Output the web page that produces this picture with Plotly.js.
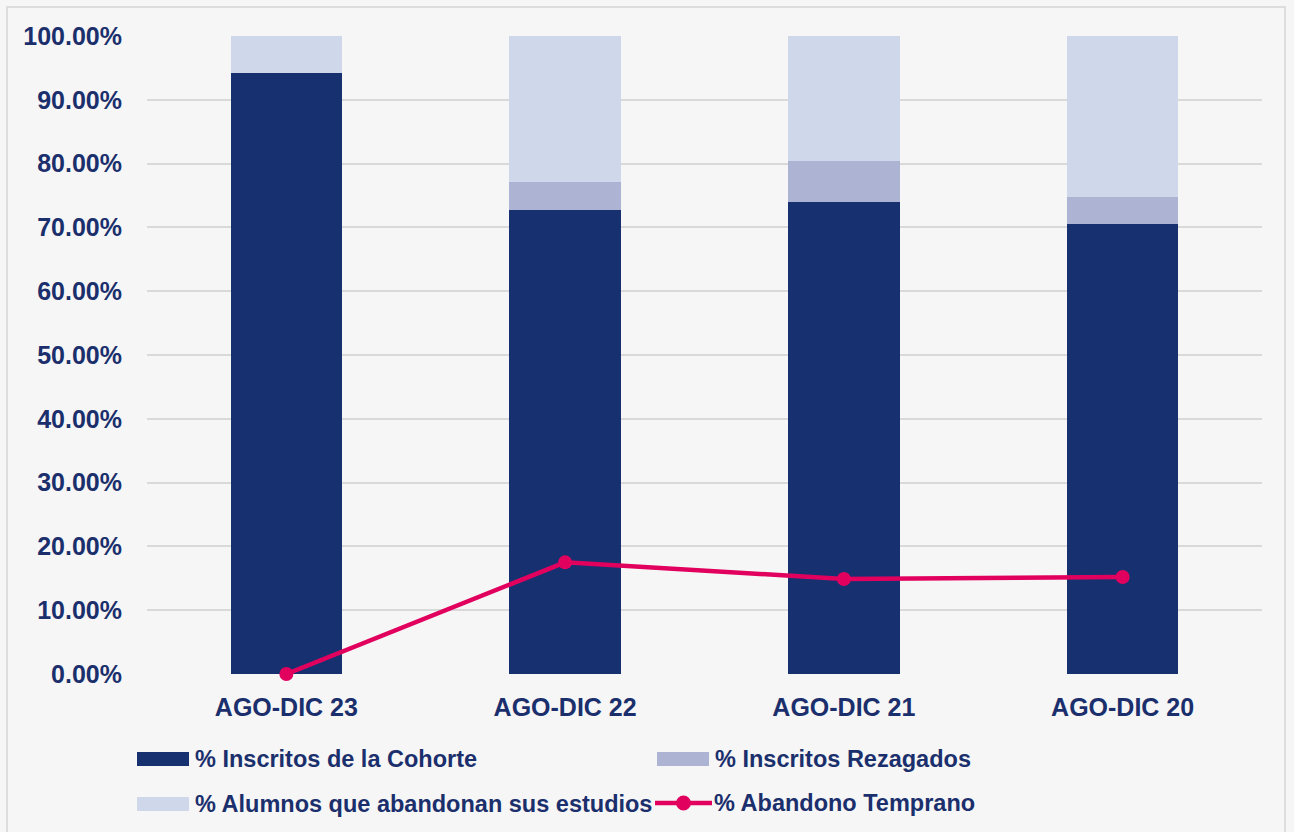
<!DOCTYPE html>
<html>
<head>
<meta charset="utf-8">
<script src="https://cdn.plot.ly/plotly-3.0.1.min.js"></script>
<style>html,body{margin:0;padding:0;background:#f6f6f6;}#chart{width:1294px;height:832px;}</style>
</head>
<body>
<div id="chart"></div>
<script>
const categories = ["AGO-DIC 23", "AGO-DIC 22", "AGO-DIC 21", "AGO-DIC 20"];
const inscritosCohorte = [0.942, 0.727, 0.740, 0.705];
const inscritosRezagados = [0.000, 0.044, 0.064, 0.043];
const alumnosAbandonan = [0.058, 0.229, 0.196, 0.252];
const abandonoTemprano = [0.000, 0.175, 0.149, 0.152];
const yTicks = [0, 0.1, 0.2, 0.3, 0.4, 0.5, 0.6, 0.7, 0.8, 0.9, 1.0];
const seriesNames = ["% Inscritos de la Cohorte", "% Inscritos Rezagados",
                     "% Alumnos que abandonan sus estudios", "% Abandono Temprano"];
const seriesColors = ["#17306f", "#adb3d3", "#cfd8ea", "#e2005f"];

const navy = "#1b2f6d";
const FONT = "Liberation Sans, Arial, sans-serif";

const traces = [
  {type: "bar", name: seriesNames[0], x: categories, y: inscritosCohorte, marker: {color: seriesColors[0]}},
  {type: "bar", name: seriesNames[1], x: categories, y: inscritosRezagados, marker: {color: seriesColors[1]}},
  {type: "bar", name: seriesNames[2], x: categories, y: alumnosAbandonan, marker: {color: seriesColors[2]}},
  {type: "scatter", mode: "lines+markers", name: seriesNames[3], x: categories, y: abandonoTemprano,
   cliponaxis: false,
   line: {color: seriesColors[3], width: 4.5}, marker: {color: seriesColors[3], size: 14}}
];

// plot-area geometry (pixels) used to place the custom legend
const L = 147, T = 36, PW = 1294 - 147 - 32, PH = 832 - 36 - 158;
const px = v => (v - L) / PW;
const py = v => (T + PH - v) / PH;

const shapes = [
  {type: "rect", xref: "paper", yref: "paper", x0: px(7), x1: px(1285), y0: py(7), y1: py(832 + 5),
   line: {color: "#dddddd", width: 2}, fillcolor: "rgba(0,0,0,0)", layer: "below"}
];
const annotations = [];
// legend entries: [symbol left, row center y, kind]
const legendPos = [[137, 759, "bar"], [657, 759, "bar"], [137, 804, "bar"], [655, 803, "line"]];
legendPos.forEach((p, i) => {
  const [x0, yc, kind] = p;
  if (kind === "bar") {
    shapes.push({type: "rect", xref: "paper", yref: "paper", x0: px(x0), x1: px(x0 + 52),
      y0: py(yc - 7), y1: py(yc + 7), line: {width: 0}, fillcolor: seriesColors[i]});
  } else {
    shapes.push({type: "line", xref: "paper", yref: "paper", x0: px(x0), x1: px(x0 + 57),
      y0: py(yc), y1: py(yc), line: {color: seriesColors[i], width: 4.5}});
    shapes.push({type: "circle", xref: "paper", yref: "paper", x0: px(x0 + 21), x1: px(x0 + 36),
      y0: py(yc - 7.5), y1: py(yc + 7.5), line: {width: 0}, fillcolor: seriesColors[i]});
  }
  annotations.push({xref: "paper", yref: "paper", x: px(x0 + (kind === "bar" ? 56 : 57)), y: py(yc),
    xanchor: "left", yanchor: "middle", showarrow: false, text: seriesNames[i],
    font: {size: 23.5, family: FONT, weight: "bold", color: navy}});
});

const layout = {
  width: 1294, height: 832,
  margin: {l: 147, r: 32, t: 36, b: 158},
  paper_bgcolor: "#f6f6f6",
  plot_bgcolor: "rgba(0,0,0,0)",
  barmode: "stack",
  bargap: 0.6,
  showlegend: false,
  font: {family: FONT, color: navy},
  xaxis: {
    tickfont: {size: 25, family: FONT, weight: "bold", color: navy},
    showgrid: false, zeroline: false, showline: false,
    ticks: "outside", ticklen: 11, tickcolor: "rgba(0,0,0,0)"
  },
  yaxis: {
    range: [0, 1], tickvals: yTicks, tickformat: ".2%",
    tickfont: {size: 25, family: FONT, weight: "bold", color: navy},
    gridcolor: "#d9d9d9", gridwidth: 2, zeroline: false, showline: false,
    ticks: "outside", ticklen: 19, tickcolor: "rgba(0,0,0,0)"
  },
  shapes: shapes,
  annotations: annotations,
  hovermode: false
};

Plotly.newPlot("chart", traces, layout, {displayModeBar: false, staticPlot: true});
</script>
</body>
</html>
